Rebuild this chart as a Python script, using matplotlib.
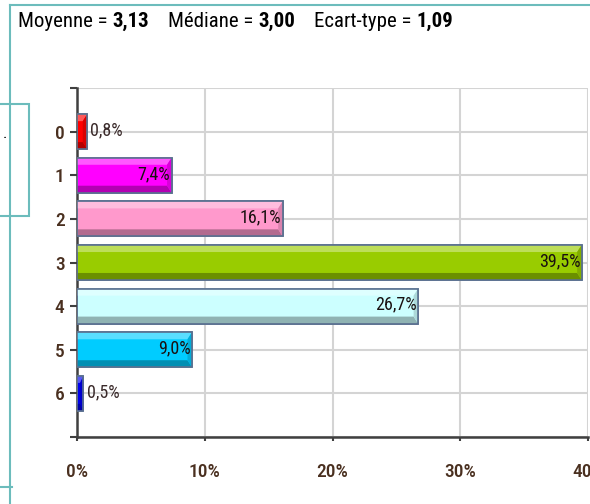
import matplotlib.pyplot as plt
from matplotlib.patches import Polygon, Rectangle
from matplotlib.lines import Line2D
from matplotlib import colors as mcolors
from matplotlib import font_manager

# Données
categories = ['0', '1', '2', '3', '4', '5', '6']
pourcentages = [0.8, 7.4, 16.1, 39.5, 26.7, 9.0, 0.5]
etiquettes = ['0,8%', '7,4%', '16,1%', '39,5%', '26,7%', '9,0%', '0,5%']
couleurs = ['#ff0000', '#ff00ff', '#ff99cc', '#99cc00', '#ccffff', '#00ccff', '#0000ee']
x_ticks = [0, 10, 20, 30, 40]
x_labels = ['0%', '10%', '20%', '30%', '40%']

# police étroite si disponible
noms = {f.name for f in font_manager.fontManager.ttflist}
police = [n for n in ['Liberation Sans Narrow', 'DejaVu Sans Condensed', 'Roboto Condensed',
                      'Open Sans Condensed'] if n in noms] + ['DejaVu Sans']
plt.rcParams['font.family'] = police
etroit = police[0] != 'DejaVu Sans'
stretch = 'normal' if etroit else 'condensed'

fig = plt.figure(figsize=(5.9, 5.04), dpi=100)
W, H = 590, 504
ax = fig.add_axes([77 / W, 1 - 437 / H, (588 - 77) / W, (437 - 88) / H])

def teinte(c, f):
    r, g, b = mcolors.to_rgb(c)
    if f > 0:
        return (r + (1 - r) * f, g + (1 - g) * f, b + (1 - b) * f)
    return (r * (1 + f), g * (1 + f), b * (1 + f))

hauteur = 0.8
bande = 0.16
pos = list(range(len(categories)))
ax.barh(pos, pourcentages, height=hauteur, color=couleurs,
        edgecolor='#5b7190', linewidth=1.2, zorder=3)

# effet de relief
for y, v, c in zip(pos, pourcentages, couleurs):
    haut = y - hauteur / 2
    bas = y + hauteur / 2
    d = min(0.35, v / 2)
    ax.add_patch(Polygon([(0, haut), (v, haut), (v - d, haut + bande), (0, haut + bande)],
                         closed=True, facecolor=teinte(c, 0.35), edgecolor='none', zorder=4))
    ax.add_patch(Polygon([(0, bas), (v, bas), (v - d, bas - bande), (0, bas - bande)],
                         closed=True, facecolor=teinte(c, -0.3), edgecolor='none', zorder=4))
    ax.add_patch(Polygon([(v, haut), (v, bas), (v - d, bas - bande), (v - d, haut + bande)],
                         closed=True, facecolor=teinte(c, -0.15), edgecolor='none', zorder=4))
    ax.add_patch(Rectangle((0, haut), v, hauteur, facecolor='none',
                           edgecolor='#5b7190', linewidth=1.2, zorder=5))

for y, v, t in zip(pos, pourcentages, etiquettes):
    if v < 3:
        ax.text(v + 0.25, y - 0.03, t, ha='left', va='center', fontsize=13, fontstretch=stretch,
                color='#3a2a2a', zorder=6)
    else:
        ax.text(v - 0.1, y - 0.03, t, ha='right', va='center', fontsize=13, fontstretch=stretch,
                color='#1a1010', zorder=6)

ax.set_xlim(0, 40)
ax.set_ylim(7, -1)
ax.set_yticks(range(-1, 8))
ax.set_yticklabels([''] + categories + [''])
ax.set_xticks(x_ticks)
ax.set_xticklabels(x_labels)
ax.grid(True, color='#d4d4d4', linewidth=1.5, zorder=0)
ax.set_axisbelow(True)
for s in ['top', 'right']:
    ax.spines[s].set_visible(False)
for s in ['left', 'bottom']:
    ax.spines[s].set_color('#404040')
    ax.spines[s].set_linewidth(1.8)
ax.tick_params(axis='y', length=5, width=1.5, color='#404040', labelsize=14,
               labelcolor='#4a3020', pad=4)
ax.tick_params(axis='x', length=3, width=1.5, color='#404040', labelsize=14,
               labelcolor='#4a3020', pad=16)
for lab in ax.get_xticklabels() + ax.get_yticklabels():
    lab.set_fontstretch(stretch)
    lab.set_fontweight('medium')

# cadre de la diapositive
teal = '#6cbcbc'
fig.add_artist(Line2D([10 / W, 10 / W], [0, 1 - 5 / H], color=teal, lw=1.5))
fig.add_artist(Line2D([10 / W, 1], [1 - 5 / H, 1 - 5 / H], color=teal, lw=1.5))
fig.add_artist(Line2D([0, 12 / W], [1 - 487 / H, 1 - 487 / H], color=teal, lw=1.5))
fig.add_artist(Rectangle((-0.01, 1 - 216 / H), 35 / W, 112 / H, transform=fig.transFigure,
                         facecolor='white', edgecolor=teal, lw=1.5))
fig.text(3 / W, 1 - 138 / H, '.', fontsize=12, color='black', ha='left', va='baseline')

# titre
x0 = 18 / W
yt = 1 - 27 / H
morceaux = [('Moyenne = ', 'normal'), ('3,13', 'bold'), ('    Médiane = ', 'normal'),
            ('3,00', 'bold'), ('    Ecart-type = ', 'normal'), ('1,09', 'bold')]
rend = fig.canvas.get_renderer()
x = x0
for txt, w in morceaux:
    t = fig.text(x, yt, txt, fontsize=15, fontweight=w, fontstretch=stretch, color='black',
                 ha='left', va='baseline')
    bb = t.get_window_extent(renderer=rend)
    x += bb.width / W

fig.savefig('out.png', dpi=100)
